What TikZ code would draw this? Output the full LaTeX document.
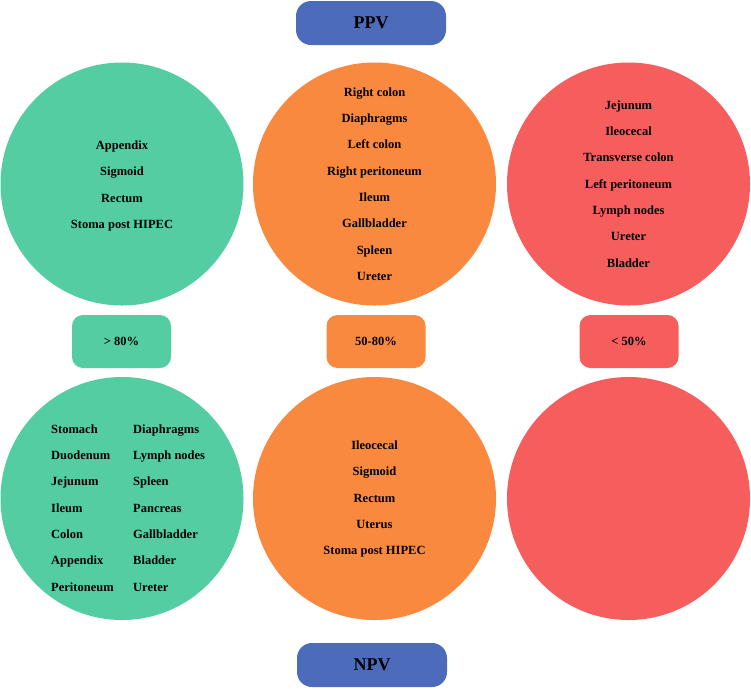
\documentclass[tikz,border=0pt]{standalone}
\usepackage{fontspec}
\setmainfont{Liberation Serif}
\definecolor{cgreen}{RGB}{84,205,163}
\definecolor{corange}{RGB}{249,137,62}
\definecolor{cred}{RGB}{246,94,94}
\definecolor{cblue}{RGB}{76,107,186}
\tikzset{
  blob/.style={circle, minimum size=243pt, inner sep=0pt, draw=none},
  pvbox/.style={rounded corners=15pt, fill=cblue, minimum width=150pt, minimum height=44pt, inner sep=0pt,
    font=\bfseries\fontsize{18}{20}\selectfont},
  pctbox/.style={rounded corners=11pt, minimum width=99pt, minimum height=53pt, inner sep=0pt,
    font=\bfseries\fontsize{12.5}{14}\selectfont},
  organs/.style={align=center, inner sep=0pt, font=\bfseries\fontsize{12.5}{26.3}\selectfont},
  organcol/.style={align=left, inner sep=0pt, anchor=west, font=\bfseries\fontsize{12.5}{26.3}\selectfont}
}
\begin{document}
\begin{tikzpicture}[x=1pt,y=-1pt]
\useasboundingbox (0,0) rectangle (751,689);
\fill[white] (0,0) rectangle (751,689);

\node[pvbox] (ppv) at (371,23) {PPV};
\node[pvbox] (npv) at (372,665) {NPV};

\node[blob, fill=cgreen] (g1) at (122,184) {};
\node[blob, fill=corange] (o1) at (374.5,184) {};
\node[blob, fill=cred] (r1) at (628.5,184) {};

\node[blob, fill=cgreen] (g2) at (122,498.5) {};
\node[blob, fill=corange] (o2) at (374.5,498.5) {};
\node[blob, fill=cred] (r2) at (628.5,498.5) {};

\node[pctbox, fill=cgreen] (pg) at (121.5,341.5) {> 80\%};
\node[pctbox, fill=corange] (po) at (376,341.5) {50-80\%};
\node[pctbox, fill=cred] (pr) at (629,341.5) {< 50\%};

\node[organs] (g1t) at (122,186) {Appendix\\Sigmoid\\Rectum\\Stoma post HIPEC};
\node[organs] (o1t) at (374.5,184) {Right colon\\Diaphragms\\Left colon\\Right peritoneum\\Ileum\\Gallbladder\\Spleen\\Ureter};
\node[organs] (r1t) at (628.5,184) {Jejunum\\Ileocecal\\Transverse colon\\Left peritoneum\\Lymph nodes\\Ureter\\Bladder};

\node[organcol] (g2l) at (51,508) {Stomach\\Duodenum\\Jejunum\\Ileum\\Colon\\Appendix\\Peritoneum};
\node[organcol] (g2r) at (133,508) {Diaphragms\\Lymph nodes\\Spleen\\Pancreas\\Gallbladder\\Bladder\\Ureter};

\node[organs] (o2t) at (374.5,499) {Ileocecal\\Sigmoid\\Rectum\\Uterus\\Stoma post HIPEC};
\end{tikzpicture}
\end{document}
